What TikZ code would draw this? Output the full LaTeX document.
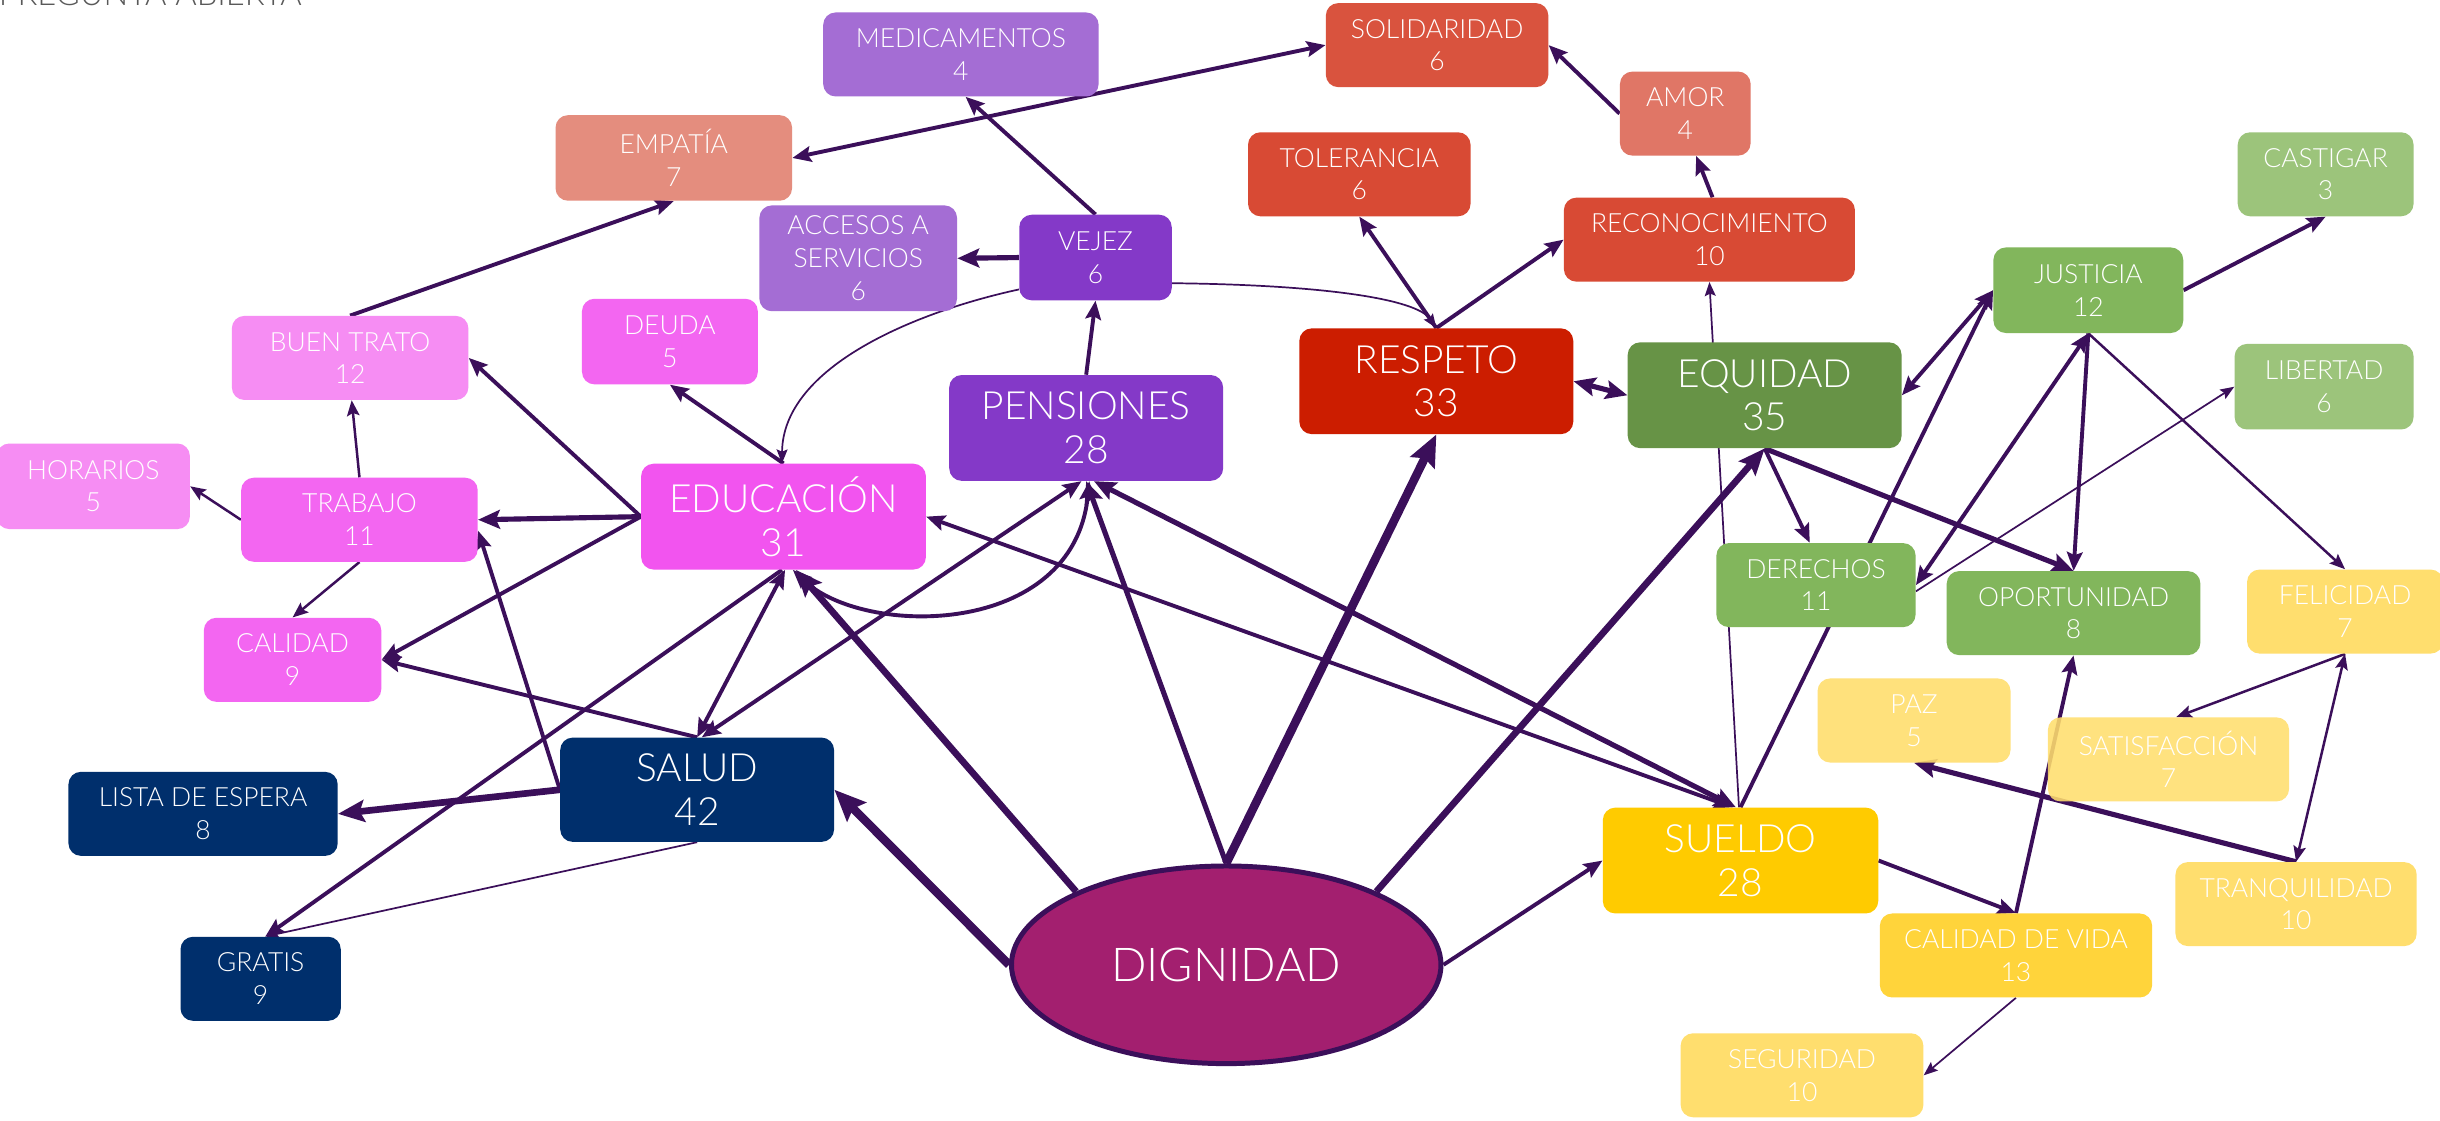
\documentclass[tikz,border=0pt]{standalone}
\usepackage{fontspec}
\IfFontExistsTF{Lato Light}{\setmainfont{Lato Light}}{\setmainfont{Lato}}
\usetikzlibrary{arrows.meta,shapes.geometric,backgrounds}
\definecolor{edgec}{HTML}{3B0F5A}
\definecolor{cMed}{HTML}{A46DD4}
\definecolor{cVej}{HTML}{8439C8}
\definecolor{cSol}{HTML}{D9533E}
\definecolor{cTol}{HTML}{D84A34}
\definecolor{cAmor}{HTML}{E07666}
\definecolor{cEmp}{HTML}{E48D7E}
\definecolor{cResp}{HTML}{CC1D00}
\definecolor{cEqu}{HTML}{679346}
\definecolor{cJus}{HTML}{82B65C}
\definecolor{cCas}{HTML}{9CC47B}
\definecolor{cYel}{HTML}{FFDE6E}
\definecolor{cCdv}{HTML}{FFD43B}
\definecolor{cSue}{HTML}{FFCB00}
\definecolor{cEdu}{HTML}{F254EF}
\definecolor{cDeu}{HTML}{F366F1}
\definecolor{cBuen}{HTML}{F68DF3}
\definecolor{cSal}{HTML}{002F6C}
\definecolor{cDig}{HTML}{A31F6F}
\definecolor{cGray}{HTML}{595959}
\tikzset{
  box/.style={rectangle, rounded corners=8pt, fill=#1, text=white, align=center, inner sep=0pt, font=\fontsize{17}{21}\selectfont},
  bigbox/.style={box=#1, font=\fontsize{25}{28}\selectfont},
  sz/.style 2 args={minimum width=#1pt, minimum height=#2pt},
  w1/.style={draw=edgec, line width=1.1pt, >={Stealth[length=9pt,width=7pt,inset=1.5pt]}},
  w15/.style={draw=edgec, line width=1.6pt, >={Stealth[length=10pt,width=8pt,inset=1.8pt]}},
  w2/.style={draw=edgec, line width=2.5pt, >={Stealth[length=12pt,width=10pt,inset=2pt]}},
  w3/.style={draw=edgec, line width=3.3pt, >={Stealth[length=14pt,width=12pt,inset=2.5pt]}},
  w4/.style={draw=edgec, line width=4.3pt, >={Stealth[length=17pt,width=14pt,inset=3pt]}},
  w5/.style={draw=edgec, line width=5.5pt, >={Stealth[length=20pt,width=17pt,inset=3pt]}},
}
\begin{document}
\begin{tikzpicture}[x=1pt,y=-1pt]
\useasboundingbox (0,0) rectangle (1568,720);
\node[anchor=base west, text=cGray, font=\fontsize{21}{24}\selectfont, inner sep=0pt] (titulo) at (-1,3.5) {PREGUNTA ABIERTA};

\node[box=cMed, sz={177}{54}] (medic) at (617.5,35) {MEDICAMENTOS\\4};
\node[box=cSol, sz={143}{54}] (solid) at (923.5,29) {SOLIDARIDAD\\6};
\node[box=cEmp, sz={152}{55}] (empatia) at (433,101.5) {EMPATÍA\\7};
\node[box=cAmor, sz={84}{54}] (amor) at (1083,73) {AMOR\\4};
\node[box=cTol, sz={143}{54}] (toler) at (873.5,112) {TOLERANCIA\\6};
\node[box=cTol, sz={187}{54}] (recon) at (1098.5,154) {RECONOCIMIENTO\\10};
\node[box=cCas, sz={113}{54}] (castigar) at (1494.5,112) {CASTIGAR\\3};
\node[box=cMed, sz={127}{68}] (accesos) at (551.5,166) {ACCESOS A\\SERVICIOS\\6};
\node[box=cVej, sz={98}{55}] (vejez) at (704,165.5) {VEJEZ\\6};
\node[box=cJus, sz={122}{55}] (justicia) at (1342,186.5) {JUSTICIA\\12};
\node[box=cDeu, sz={113}{55}] (deuda) at (430.5,219.5) {DEUDA\\5};
\node[box=cBuen, sz={152}{54}] (buentrato) at (225,230) {BUEN TRATO\\12};
\node[bigbox=cVej, sz={176}{68}] (pensiones) at (698,275) {PENSIONES\\28};
\node[bigbox=cResp, sz={176}{68}] (respeto) at (923,245) {RESPETO\\33};
\node[bigbox=cEqu, sz={176}{68}] (equidad) at (1134,254) {EQUIDAD\\35};
\node[box=cCas, sz={115}{55}] (libertad) at (1493.5,248.5) {LIBERTAD\\6};
\node[box=cBuen, sz={124}{55}] (horarios) at (60,312.5) {HORARIOS\\5};
\node[box=cDeu, sz={152}{54}] (trabajo) at (231,334) {TRABAJO\\11};
\node[bigbox=cEdu, sz={183}{68}] (educacion) at (503.5,332) {EDUCACIÓN\\31};
\node[box=cJus, sz={128}{54}] (derechos) at (1167,376) {DERECHOS\\11};
\node[box=cJus, sz={163}{54}] (oportunidad) at (1332.5,394) {OPORTUNIDAD\\8};
\node[box=cYel, sz={126}{54}] (felicidad) at (1507,393) {FELICIDAD\\7};
\node[box=cDeu, sz={114}{54}] (calidad) at (188,424) {CALIDAD\\9};
\node[box=cYel, sz={124}{54}, fill opacity=0.9, text opacity=1] (paz) at (1230,463) {PAZ\\5};
\node[box=cYel, sz={155}{54}, fill opacity=0.88, text opacity=1] (satisf) at (1393.5,488) {SATISFACCIÓN\\7};
\node[bigbox=cSal, sz={176}{67}] (salud) at (448,507.5) {SALUD\\42};
\node[box=cSal, sz={173}{54}] (lista) at (130.5,523) {LISTA DE ESPERA\\8};
\node[bigbox=cSue, sz={177}{68}] (sueldo) at (1118.5,553) {SUELDO\\28};
\node[box=cYel, sz={155}{54}] (tranq) at (1475.5,581) {TRANQUILIDAD\\10};
\node[box=cCdv, sz={175}{54}] (cdv) at (1295.5,614) {CALIDAD DE VIDA\\13};
\node[box=cSal, sz={103}{54}] (gratis) at (167.5,629) {GRATIS\\9};
\node[ellipse, fill=cDig, draw=edgec, line width=3.2pt, minimum width=276pt, minimum height=127pt, text=white, font=\fontsize{30}{32}\selectfont, inner sep=0pt] (dignidad) at (788,620) {DIGNIDAD};
\node[box=cYel, sz={156}{54}] (seguridad) at (1158,691) {SEGURIDAD\\10};

\begin{scope}[on background layer]
\fill[white] (0,0) rectangle (1568,720);
% thin connectors
\draw[w1,->] ([yshift=-20.5pt]vejez.west) .. controls (590,200) and (503,235) .. ([xshift=-1pt]educacion.north);
\draw[w1,->] ([yshift=-16.5pt]vejez.east) .. controls (850,183) and (910,192) .. (respeto.north);
\draw[w1,->] ([xshift=-1pt]sueldo.north) -- (recon.south);
\draw[w1,->] (salud.south) -- ([xshift=3pt]gratis.north);
\draw[w1,->] ([yshift=-4pt]derechos.east) -- (libertad.west);
\draw[w1,->] (cdv.south) -- (seguridad.east);
\draw[w15,->] (justicia.south) -- (felicidad.north);
\draw[w15,->] (trabajo.west) -- (horarios.east);
\draw[w15,->] (trabajo.north) -- ([xshift=1pt]buentrato.south);
\draw[w15,->] (trabajo.south) -- (calidad.north);
\draw[w15,->] (felicidad.south) -- ([xshift=5pt]satisf.north);
\draw[w15,<->] (felicidad.south) -- (tranq.north);
% medium connectors
\draw[w2,->] (buentrato.north) -- (empatia.south);
\draw[w2,<->] (empatia.east) -- (solid.west);
\draw[w2,->] (vejez.north) -- ([xshift=3pt]medic.south);
\draw[w3,->] (vejez.west) -- (accesos.east);
\draw[w2,->] (pensiones.north) -- (vejez.south);
\draw[w2,->] (respeto.north) -- (toler.south);
\draw[w2,->] (respeto.north) -- (recon.west);
\draw[w2,->] ([xshift=2pt]recon.north) -- ([xshift=7pt]amor.south);
\draw[w2,->] (amor.west) -- (solid.east);
\draw[w3,<->] (respeto.east) -- (equidad.west);
\draw[w2,<->] (equidad.east) -- (justicia.west);
\draw[w2,->] (sueldo.north) -- (justicia.west);
\draw[w2,->] (justicia.east) -- (castigar.south);
\draw[w2,->] (justicia.south) -- (oportunidad.north);
\draw[w2,<->] (derechos.east) -- (justicia.south);
\draw[w2,->] (equidad.south) -- ([xshift=-4pt]derechos.north);
\draw[w3,->] (equidad.south) -- (oportunidad.north);
\draw[w2,->] (sueldo.east) -- (cdv.north);
\draw[w2,->] (cdv.north) -- (oportunidad.south);
\draw[w3,->] (tranq.north) -- (paz.south);
\draw[w3,->] (educacion.west) -- (trabajo.east);
\draw[w2,->] (educacion.west) -- (calidad.east);
\draw[w2,->] (educacion.west) -- (buentrato.east);
\draw[w2,->] (educacion.north) -- (deuda.south);
\draw[w2,<->] (educacion.east) -- ([xshift=-5pt]sueldo.north);
\draw[w2,<->] ([xshift=6pt]educacion.south) .. controls (555,410) and (690,410) .. ([xshift=2pt]pensiones.south);
\draw[w3,<->] ([xshift=5pt]pensiones.south) -- ([xshift=-3pt]sueldo.north);
\draw[w2,->] ([xshift=-1pt]educacion.south) -- ([xshift=3pt]gratis.north);
\draw[w2,<->] (salud.north) -- ([xshift=1pt]educacion.south);
\draw[w2,<->] ([xshift=3pt]salud.north) -- ([xshift=-3pt]pensiones.south);
\draw[w2,->] (salud.north) -- (calidad.east);
\draw[w2,->] (salud.west) -- ([yshift=-7pt]trabajo.east);
\draw[w4,->] (salud.west) -- (lista.east);
% from DIGNIDAD
\draw[w5,->] (dignidad.west) -- (salud.east);
\draw[w4,->] (dignidad.154) -- ([xshift=8pt]educacion.south);
\draw[w3,->] (dignidad.north) -- (pensiones.south);
\draw[w5,->] (dignidad.north) -- (respeto.south);
\draw[w4,->] (dignidad.26) -- (equidad.south);
\draw[w2,->] (dignidad.east) -- (sueldo.west);
\end{scope}
\end{tikzpicture}
\end{document}
